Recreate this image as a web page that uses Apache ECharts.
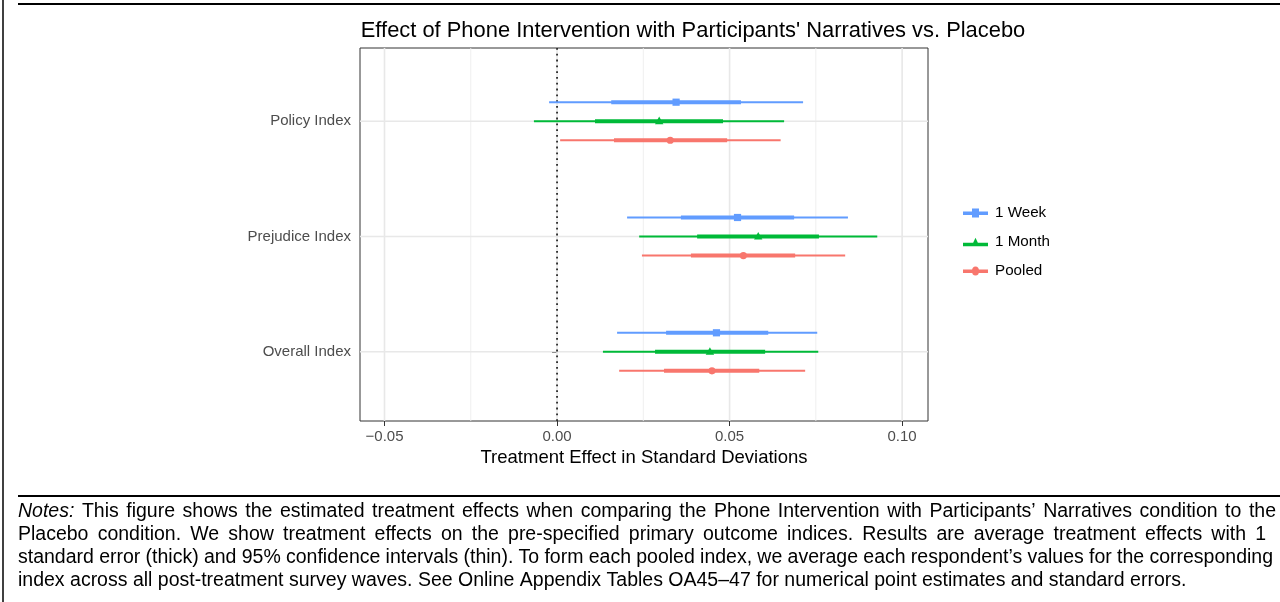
<!DOCTYPE html>
<html>
<head>
<meta charset="utf-8">
<script src="https://cdn.jsdelivr.net/npm/echarts@6/dist/echarts.min.js"></script>
<style>
html,body{margin:0;padding:0;background:#fff;}
#chart{width:1280px;height:602px;}
</style>
</head>
<body>
<div id="chart"></div>
<script>
// ---- data ----
const categories = ['Policy Index', 'Prejudice Index', 'Overall Index'];
const seriesNames = ['1 Week', '1 Month', 'Pooled'];

const weekEst  = [0.0345, 0.0523, 0.0462];
const weekSeLo = [0.0157, 0.0359, 0.0316];
const weekSeHi = [0.0533, 0.0687, 0.0612];
const weekCiLo = [-0.0023, 0.0203, 0.0174];
const weekCiHi = [0.0713, 0.0843, 0.0754];

const monthEst  = [0.0296, 0.0583, 0.0443];
const monthSeLo = [0.0110, 0.0406, 0.0284];
const monthSeHi = [0.0481, 0.0759, 0.0603];
const monthCiLo = [-0.0067, 0.0238, 0.0133];
const monthCiHi = [0.0658, 0.0928, 0.0757];

const pooledEst  = [0.0328, 0.0540, 0.0449];
const pooledSeLo = [0.0165, 0.0388, 0.0310];
const pooledSeHi = [0.0493, 0.0690, 0.0586];
const pooledCiLo = [0.0009, 0.0246, 0.0180];
const pooledCiHi = [0.0648, 0.0835, 0.0719];

const xTickValues = [-0.05, 0, 0.05, 0.10];
const xTickLabels = ['\u22120.05', '0.00', '0.05', '0.10'];
const xMinorValues = [-0.025, 0.025, 0.075];

const titleText = "Effect of Phone Intervention with Participants' Narratives vs. Placebo";
const xAxisTitle = 'Treatment Effect in Standard Deviations';
const notesLabel = 'Notes:';
const notesLines = [
  'This figure shows the estimated treatment effects when comparing the Phone Intervention with Participants\u2019 Narratives condition to the',
  'Placebo condition. We show treatment effects on the pre-specified primary outcome indices. Results are average treatment effects with 1',
  'standard error (thick) and 95% confidence intervals (thin). To form each pooled index, we average each respondent\u2019s values for the corresponding',
  'index across all post-treatment survey waves. See Online Appendix Tables OA45\u201347 for numerical point estimates and standard errors.'
];

// ---- build ----
const colors = ['#619CFF', '#00BA38', '#F8766D'];
const shapes = ['square', 'triangle', 'circle'];
const dodge = [0.165, 0, -0.165];
const nCat = categories.length;
const catPos = categories.map((c, i) => nCat - i);
const yMin = 0.4, yMax = 3.635;
const xMin = -0.0571, xMax = 0.1075;

const allSeries = [
  [weekEst, weekSeLo, weekSeHi, weekCiLo, weekCiHi],
  [monthEst, monthSeLo, monthSeHi, monthCiLo, monthCiHi],
  [pooledEst, pooledSeLo, pooledSeHi, pooledCiLo, pooledCiHi]
];

function makeSymbol(shape, x, y, color) {
  if (shape === 'square') {
    return { type: 'rect', shape: { x: x - 3.6, y: y - 3.6, width: 7.2, height: 7.2 }, style: { fill: color } };
  }
  if (shape === 'triangle') {
    return { type: 'polygon', shape: { points: [[x, y - 4.6], [x + 4.2, y + 3], [x - 4.2, y + 3]] }, style: { fill: color } };
  }
  return { type: 'circle', shape: { cx: x, cy: y, r: 3.6 }, style: { fill: color } };
}

const seriesList = [];

// background grid + zero reference line
seriesList.push({
  type: 'custom',
  name: 'bg',
  z: 1,
  silent: true,
  data: [[0, 1]],
  encode: { x: 0, y: 1 },
  renderItem: function (params, api) {
    const children = [];
    xMinorValues.forEach(v => {
      const p1 = api.coord([v, yMin]), p2 = api.coord([v, yMax]);
      children.push({ type: 'line', shape: { x1: p1[0], y1: p1[1], x2: p2[0], y2: p2[1] }, style: { stroke: '#EDEDED', lineWidth: 0.9 } });
    });
    xTickValues.forEach(v => {
      const p1 = api.coord([v, yMin]), p2 = api.coord([v, yMax]);
      children.push({ type: 'line', shape: { x1: p1[0], y1: p1[1], x2: p2[0], y2: p2[1] }, style: { stroke: '#E8E8E8', lineWidth: 1.6 } });
    });
    catPos.forEach(v => {
      const p1 = api.coord([xMin, v]), p2 = api.coord([xMax, v]);
      children.push({ type: 'line', shape: { x1: p1[0], y1: p1[1], x2: p2[0], y2: p2[1] }, style: { stroke: '#E8E8E8', lineWidth: 1.6 } });
    });
    const z1 = api.coord([0, yMin]), z2 = api.coord([0, yMax]);
    children.push({ type: 'line', shape: { x1: z1[0], y1: z1[1], x2: z2[0], y2: z2[1] }, style: { stroke: '#000', lineWidth: 1.5, lineDash: [1.8, 4] } });
    return { type: 'group', children: children };
  }
});

allSeries.forEach((arrs, s) => {
  const [est, seLo, seHi, ciLo, ciHi] = arrs;
  const data = categories.map((c, i) => [catPos[i] + dodge[s], est[i], seLo[i], seHi[i], ciLo[i], ciHi[i]]);
  seriesList.push({
    type: 'custom',
    name: seriesNames[s],
    z: 3,
    itemStyle: { color: colors[s] },
    data: data,
    encode: { x: 1, y: 0 },
    renderItem: function (params, api) {
      const y = api.value(0);
      const c = api.coord([api.value(1), y]);
      const a1 = api.coord([api.value(2), y]);
      const b1 = api.coord([api.value(3), y]);
      const a95 = api.coord([api.value(4), y]);
      const b95 = api.coord([api.value(5), y]);
      return {
        type: 'group',
        children: [
          { type: 'line', shape: { x1: a95[0], y1: a95[1], x2: b95[0], y2: b95[1] }, style: { stroke: colors[s], lineWidth: 2 } },
          { type: 'line', shape: { x1: a1[0], y1: a1[1], x2: b1[0], y2: b1[1] }, style: { stroke: colors[s], lineWidth: 4 } },
          makeSymbol(shapes[s], c[0], c[1], colors[s])
        ]
      };
    }
  });
});

const legendIcons = [
  'path://M0,3 h25 v3.5 h-25 z M9,0 h7 v9 h-7 z',
  'path://M0,5 h25 v3.5 h-25 z M12.5,0 L16.5,8.5 L8.5,8.5 z',
  'path://M0,3 h25 v3.5 h-25 z M16,4.5 A3.5,4.5 0 1,1 9,4.5 A3.5,4.5 0 1,1 16,4.5 z'
];

const graphics = [
  { type: 'line', shape: { x1: 3, y1: 0, x2: 3, y2: 602 }, style: { stroke: '#000', lineWidth: 1.5 } },
  { type: 'line', shape: { x1: 18, y1: 4, x2: 1280, y2: 4 }, style: { stroke: '#000', lineWidth: 2 } },
  { type: 'line', shape: { x1: 18, y1: 496, x2: 1280, y2: 496 }, style: { stroke: '#000', lineWidth: 2 } },
  { type: 'text', x: 693, y: 31, style: { text: titleText, fontFamily: 'Liberation Sans', fontSize: 21.9, fill: '#000', textAlign: 'center', textVerticalAlign: 'middle' } }
];

// justified notes paragraph (word by word)
const notesFont = 19.5;
const notesLeft = 18;
const notesRight = [1276, 1266, 1273, null];
const measureCtx = document.createElement('canvas').getContext('2d');
function measure(txt, italic) {
  measureCtx.font = (italic ? 'italic ' : '') + notesFont + 'px "Liberation Sans"';
  return measureCtx.measureText(txt).width;
}
notesLines.forEach((line, li) => {
  const words = line.split(' ').map(w => ({ t: w, it: false }));
  if (li === 0) words.unshift({ t: notesLabel, it: true });
  const widths = words.map(w => measure(w.t, w.it));
  const total = widths.reduce((a, b) => a + b, 0);
  const spaceW = measure(' ', false);
  const gap = notesRight[li] ? (notesRight[li] - notesLeft - total) / (words.length - 1) : spaceW;
  let x = notesLeft;
  words.forEach((w, wi) => {
    graphics.push({
      type: 'text', x: x, y: 512 + li * 23,
      style: {
        text: w.t, fontFamily: 'Liberation Sans', fontSize: notesFont, fontStyle: w.it ? 'italic' : 'normal',
        fill: '#000', textAlign: 'left', textVerticalAlign: 'middle'
      }
    });
    x += widths[wi] + gap;
  });
});

const chart = echarts.init(document.getElementById('chart'), null, { renderer: 'canvas' });
chart.setOption({
  animation: false,
  backgroundColor: '#fff',
  textStyle: { fontFamily: 'Liberation Sans' },
  grid: { left: 360, top: 48, width: 568, height: 373, show: true, borderColor: '#333', borderWidth: 1, backgroundColor: '#fff', containLabel: false },
  xAxis: {
    type: 'value', min: xMin, max: xMax,
    axisLine: { show: false },
    axisTick: { show: true, length: 5, lineStyle: { color: '#333', width: 1 }, customValues: xTickValues },
    axisLabel: {
      customValues: xTickValues, margin: 8, color: '#4D4D4D', fontSize: 15, fontFamily: 'Liberation Sans',
      formatter: v => { const k = xTickValues.findIndex(t => Math.abs(t - v) < 1e-9); return k >= 0 ? xTickLabels[k] : ''; }
    },
    splitLine: { show: false },
    name: xAxisTitle, nameLocation: 'middle', nameGap: 26,
    nameTextStyle: { color: '#000', fontSize: 18.5, fontFamily: 'Liberation Sans', verticalAlign: 'top' }
  },
  yAxis: {
    type: 'value', min: yMin, max: yMax,
    axisLine: { show: false },
    axisTick: { show: true, length: 5, lineStyle: { color: '#333', width: 1 }, customValues: catPos },
    axisLabel: {
      customValues: catPos, margin: 9, color: '#4D4D4D', fontSize: 15, fontFamily: 'Liberation Sans',
      formatter: v => { const k = catPos.findIndex(p => Math.abs(p - v) < 1e-9); return k >= 0 ? categories[k] : ''; }
    },
    splitLine: { show: false }
  },
  legend: {
    data: seriesNames.map((n, i) => ({ name: n, icon: legendIcons[i] })),
    orient: 'vertical', left: 958, top: 200,
    itemWidth: 25, itemHeight: 9, itemGap: 13,
    textStyle: { fontSize: 15.2, color: '#000', fontFamily: 'Liberation Sans', lineHeight: 16, padding: [0, 0, 0, 2] },
    selectedMode: false
  },
  series: seriesList,
  graphic: graphics
});
</script>
</body>
</html>
